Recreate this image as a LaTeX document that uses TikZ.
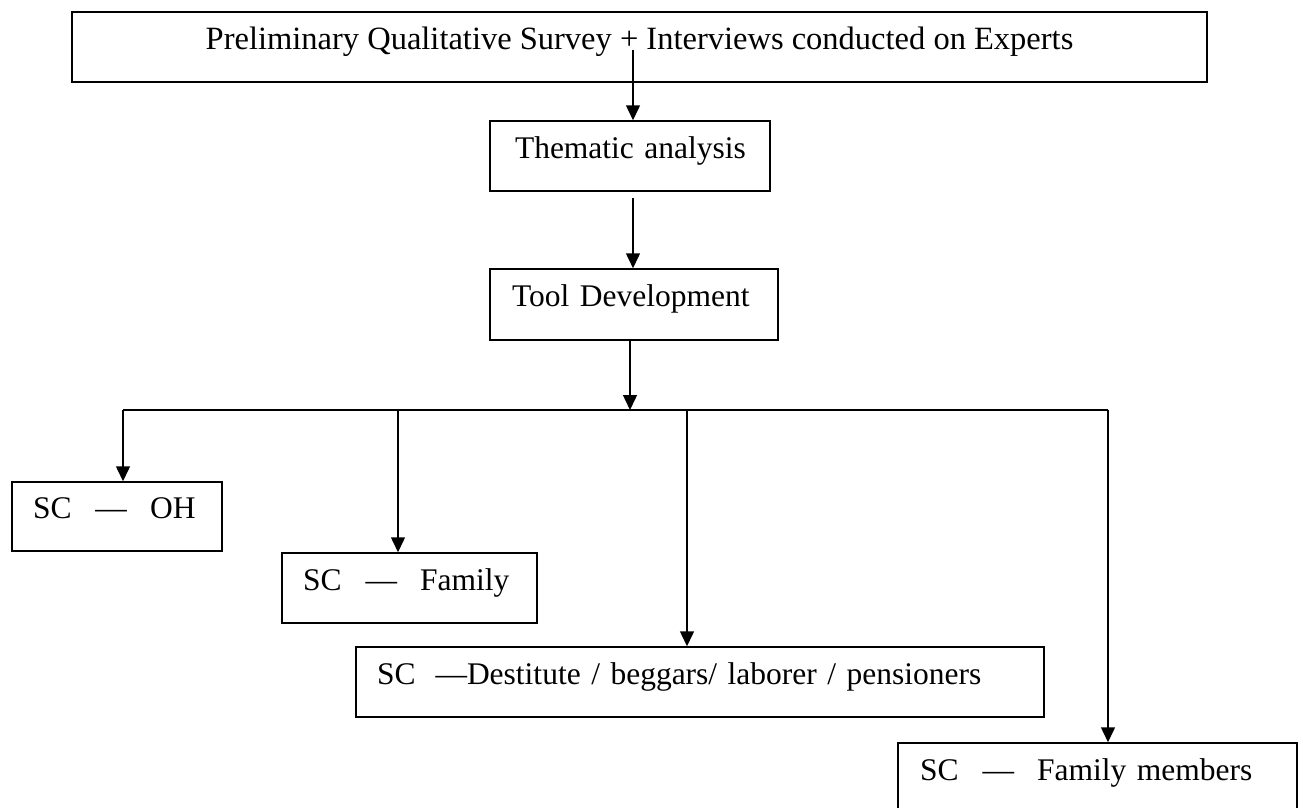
\documentclass[tikz,border=0pt]{standalone}
\usepackage{fontspec}
\setmainfont{Liberation Serif}
\usetikzlibrary{arrows.meta,calc}
\begin{document}
\begin{tikzpicture}[x=1pt,y=-1pt,
  every node/.style={font=\fontsize{31.5}{37}\selectfont, text height=0.7em, text depth=0.22em},
  box/.style={draw, line width=1.5pt, inner ysep=0pt, inner xsep=#1, align=left},
  box/.default=21pt,
  arr/.style={line width=1.5pt, -{Triangle[width=14pt,length=15pt]}},
  bus/.style={line width=1.5pt}]
\useasboundingbox (0,0) rectangle (1303,808);
\clip (0,0) rectangle (1303,808);
\node[box=0pt, align=center, minimum width=1135pt, minimum height=70pt, font=\fontsize{32.5}{38}\selectfont] (top) at (639.5,47)
  {Preliminary Qualitative Survey + Interviews conducted on Experts};
\node[box=25pt, text width=230pt, minimum height=70pt] (them) at (630,156) {\mbox{Thematic analysis}};
\node[box=22pt, text width=244pt, minimum height=71pt] (tool) at (634,304.5) {\mbox{Tool Development}};
\node[box=21pt, text width=168pt, minimum height=69pt] (oh) at (117,516.5) {\mbox{SC\hspace{24pt}—\hspace{23pt}OH}};
\node[box=21pt, text width=213pt, minimum height=70pt] (fam) at (409.5,588) {\mbox{SC\hspace{24pt}—\hspace{23pt}Family}};
\node[box=21pt, text width=646pt, minimum height=70pt] (dest) at (700,682) {\mbox{SC\hspace{20pt}—Destitute / beggars/ laborer / pensioners}};
\node[box=22pt, text width=355pt, minimum height=70pt] (mem) at (1097.5,778) {\mbox{SC\hspace{24pt}—\hspace{23pt}Family members}};
\coordinate (t0) at (633,50);
\coordinate (bus) at (630,410);
\coordinate (bl) at (123,410);
\coordinate (bf) at (398,410);
\coordinate (bd) at (687,410);
\coordinate (br) at (1108,410);
\draw[arr] (t0) -- (t0 |- them.north);
\draw[arr] ([yshift=-6pt]them.south -| t0) -- (t0 |- tool.north);
\draw[arr] (tool.south -| bus) -- (bus);
\draw[bus] (bl) -- (br);
\draw[arr] (bl) -- (bl |- oh.north);
\draw[arr] (bf) -- (bf |- fam.north);
\draw[arr] (bd) -- (bd |- dest.north);
\draw[arr] (br) -- (br |- mem.north);
\end{tikzpicture}
\end{document}
